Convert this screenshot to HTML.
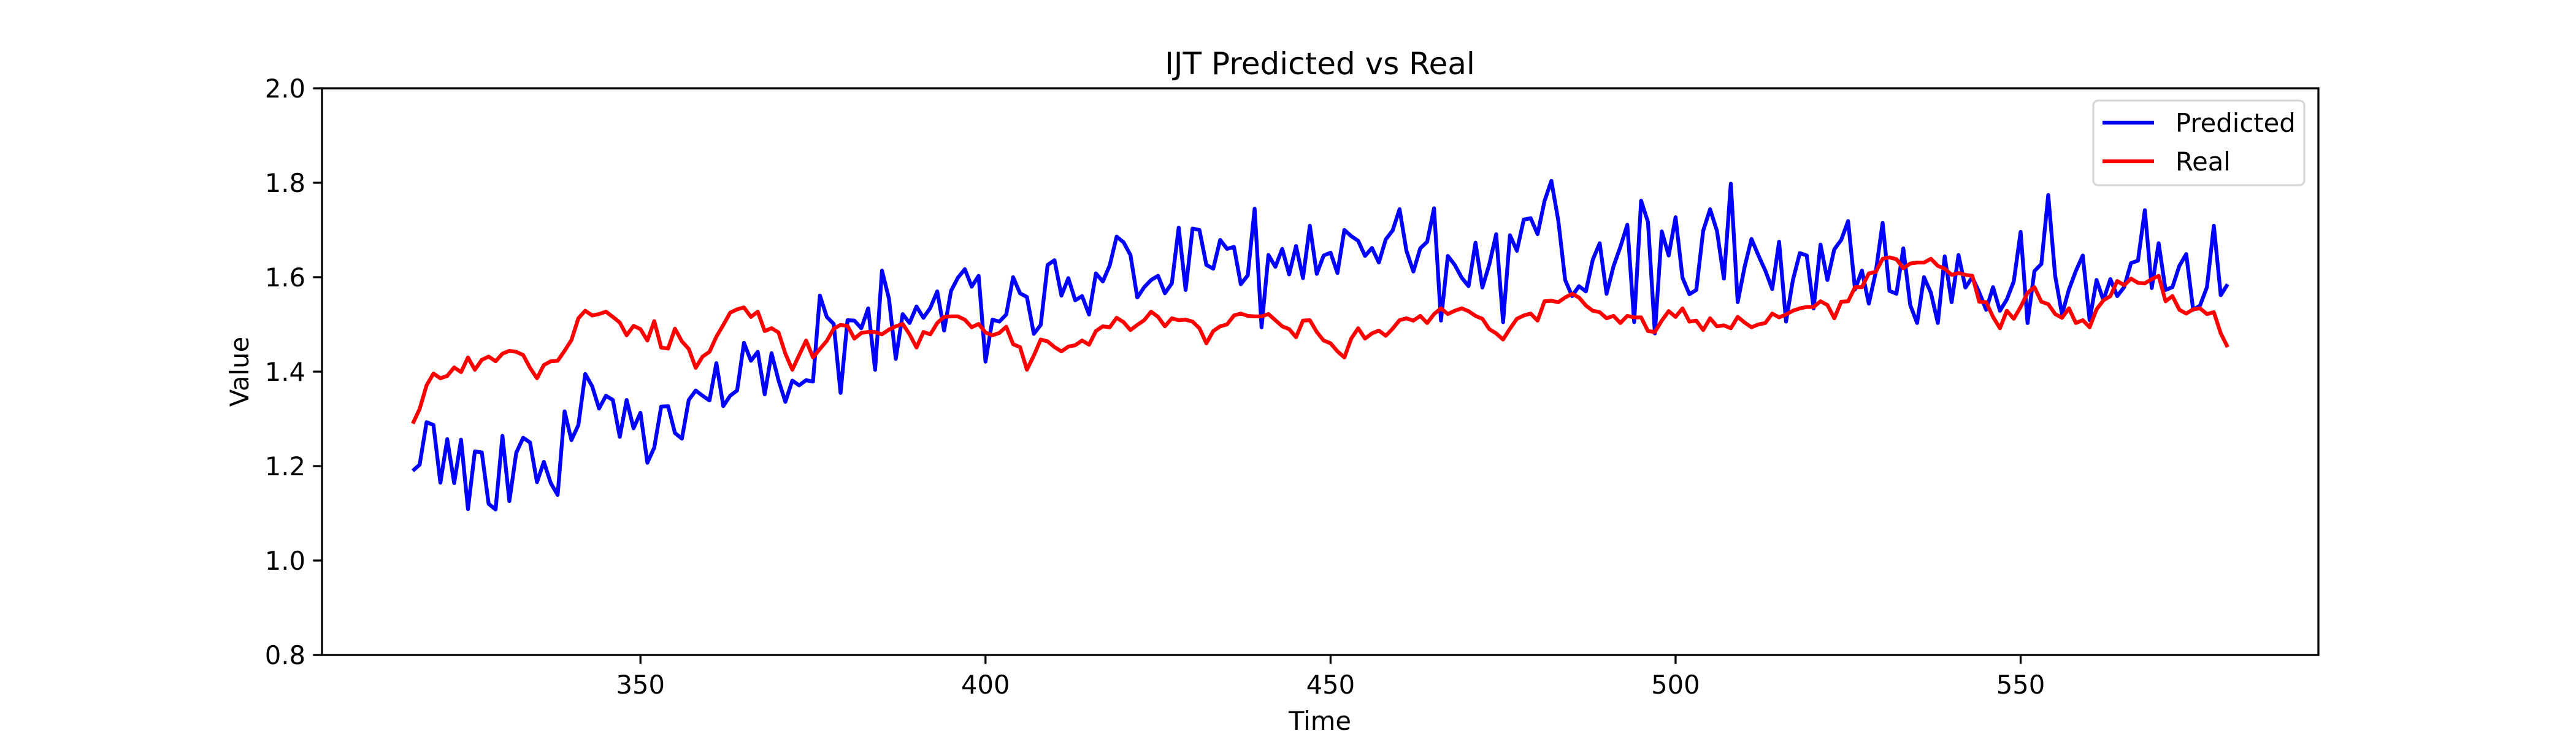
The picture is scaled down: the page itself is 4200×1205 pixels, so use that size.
<!DOCTYPE html>
<html><head><meta charset="utf-8"><style>
html,body{margin:0;padding:0;background:#fff}
svg text{font-family:"DejaVu Sans","Liberation Sans",sans-serif}
</style></head><body>
<svg id="chart" width="4200" height="1200" viewBox="0 0 4200 1200" xmlns="http://www.w3.org/2000/svg">
<rect width="4200" height="1200" fill="#fff"/>
<text x="2152" y="121" font-size="50" text-anchor="middle">IJT Predicted vs Real</text>
<g id="ticks"></g>
<g id="series"></g>
<rect x="525" y="144" width="3255" height="924" fill="none" stroke="#000" stroke-width="3.3"/>
<text x="2152" y="1190" font-size="41.7" text-anchor="middle">Time</text>
<text x="0" y="0" font-size="41.7" text-anchor="middle" transform="translate(405,606) rotate(-90)">Value</text>
<g>
<rect x="3413" y="164" width="344" height="138" rx="8" fill="#fff" fill-opacity="0.8" stroke="#d6d6d6" stroke-width="3.3"/>
<line x1="3428" y1="200" x2="3512" y2="200" stroke="#0000ff" stroke-width="6.25"/>
<text x="3547" y="215" font-size="41.7">Predicted</text>
<line x1="3428" y1="263" x2="3512" y2="263" stroke="#ff0000" stroke-width="6.25"/>
<text x="3547" y="278" font-size="41.7">Real</text>
</g>
</svg>
<script>
const startTime = 317;
const predicted = [1.19,1.203,1.293,1.287,1.165,1.257,1.164,1.256,1.109,1.231,
1.229,1.12,1.108,1.264,1.126,1.228,1.26,1.25,1.166,1.209,
1.164,1.139,1.316,1.255,1.287,1.395,1.369,1.322,1.349,1.34,
1.262,1.34,1.28,1.313,1.207,1.239,1.326,1.327,1.27,1.258,
1.34,1.36,1.349,1.339,1.418,1.327,1.349,1.36,1.461,1.423,
1.442,1.352,1.439,1.382,1.336,1.381,1.371,1.382,1.379,1.561,
1.516,1.501,1.355,1.509,1.508,1.492,1.534,1.404,1.614,1.555,
1.427,1.522,1.503,1.538,1.514,1.535,1.57,1.487,1.571,1.599,
1.617,1.58,1.603,1.421,1.51,1.506,1.521,1.6,1.566,1.558,
1.48,1.499,1.626,1.636,1.561,1.598,1.551,1.56,1.521,1.608,
1.591,1.625,1.686,1.674,1.647,1.557,1.579,1.594,1.603,1.566,
1.587,1.705,1.573,1.703,1.7,1.626,1.618,1.679,1.66,1.664,
1.585,1.604,1.745,1.494,1.647,1.622,1.66,1.606,1.666,1.598,
1.709,1.607,1.646,1.652,1.609,1.7,1.687,1.677,1.645,1.662,
1.631,1.68,1.699,1.744,1.656,1.612,1.661,1.675,1.746,1.508,
1.645,1.626,1.599,1.581,1.673,1.578,1.627,1.691,1.505,1.689,
1.656,1.722,1.725,1.691,1.761,1.804,1.72,1.594,1.56,1.581,
1.57,1.637,1.672,1.565,1.623,1.664,1.711,1.505,1.762,1.717,
1.481,1.697,1.646,1.727,1.599,1.564,1.573,1.698,1.744,1.698,
1.597,1.798,1.547,1.622,1.681,1.646,1.614,1.575,1.675,1.506,
1.594,1.651,1.646,1.534,1.669,1.594,1.659,1.679,1.719,1.574,
1.614,1.544,1.61,1.715,1.571,1.565,1.661,1.541,1.503,1.6,
1.567,1.503,1.644,1.547,1.647,1.578,1.6,1.568,1.531,1.579,
1.529,1.553,1.591,1.696,1.503,1.613,1.628,1.774,1.603,1.521,
1.574,1.613,1.646,1.509,1.594,1.551,1.596,1.56,1.579,1.63,
1.635,1.742,1.577,1.672,1.573,1.579,1.624,1.649,1.531,1.54,
1.579,1.709,1.562,1.585];
const real = [1.29,1.321,1.371,1.396,1.386,1.391,1.409,1.399,1.43,1.404,
1.425,1.432,1.422,1.438,1.444,1.442,1.435,1.408,1.386,1.414,
1.422,1.423,1.444,1.467,1.513,1.529,1.519,1.522,1.527,1.516,
1.504,1.477,1.497,1.49,1.466,1.507,1.451,1.449,1.491,1.464,
1.448,1.408,1.432,1.442,1.474,1.499,1.525,1.532,1.536,1.516,
1.527,1.486,1.492,1.483,1.438,1.404,1.435,1.466,1.43,1.448,
1.465,1.491,1.499,1.497,1.47,1.482,1.484,1.484,1.479,1.489,
1.496,1.501,1.479,1.451,1.484,1.479,1.503,1.516,1.517,1.517,
1.51,1.494,1.501,1.483,1.477,1.482,1.495,1.458,1.452,1.404,
1.434,1.468,1.464,1.452,1.443,1.453,1.456,1.466,1.457,1.486,
1.496,1.494,1.514,1.505,1.488,1.499,1.509,1.527,1.516,1.496,
1.513,1.509,1.51,1.506,1.492,1.46,1.486,1.496,1.5,1.519,
1.523,1.518,1.517,1.517,1.522,1.509,1.496,1.49,1.473,1.508,
1.509,1.484,1.466,1.46,1.443,1.43,1.47,1.492,1.47,1.481,
1.487,1.476,1.491,1.509,1.513,1.508,1.518,1.503,1.522,1.534,
1.522,1.529,1.534,1.528,1.518,1.512,1.49,1.481,1.468,1.491,
1.512,1.519,1.523,1.508,1.549,1.55,1.547,1.557,1.565,1.557,
1.54,1.529,1.526,1.513,1.518,1.503,1.518,1.515,1.515,1.486,
1.484,1.508,1.528,1.516,1.534,1.506,1.508,1.488,1.513,1.496,
1.498,1.492,1.516,1.504,1.494,1.5,1.503,1.523,1.515,1.521,
1.529,1.534,1.537,1.537,1.549,1.541,1.513,1.548,1.549,1.579,
1.579,1.608,1.611,1.639,1.642,1.638,1.619,1.629,1.631,1.631,
1.639,1.624,1.618,1.605,1.609,1.605,1.603,1.548,1.547,1.516,
1.492,1.529,1.512,1.537,1.567,1.579,1.548,1.543,1.522,1.514,
1.534,1.503,1.509,1.494,1.532,1.551,1.56,1.592,1.583,1.597,
1.588,1.587,1.596,1.603,1.549,1.56,1.531,1.523,1.532,1.534,
1.522,1.526,1.481,1.452];
const xTicks = [350,400,450,500,550];
const yTicks = [0.8,1.0,1.2,1.4,1.6,1.8,2.0];

const NS = "http://www.w3.org/2000/svg";
const L = 525, R = 3780, T = 144, B = 1068;
const n = Math.max(predicted.length, real.length);
const xMin0 = startTime, xMax0 = startTime + n - 1;
const pad = (xMax0 - xMin0) * 0.05;
const xMin = xMin0 - pad, xMax = xMax0 + pad;
const yMin = 0.8, yMax = 2.0;
function sx(v){ return L + (v - xMin) / (xMax - xMin) * (R - L); }
function sy(v){ return B - (v - yMin) / (yMax - yMin) * (B - T); }

const tg = document.getElementById('ticks');
xTicks.forEach(t => {
  const x = sx(t);
  const ln = document.createElementNS(NS, 'line');
  ln.setAttribute('x1', x); ln.setAttribute('x2', x);
  ln.setAttribute('y1', B); ln.setAttribute('y2', B + 14.6);
  ln.setAttribute('stroke', '#000'); ln.setAttribute('stroke-width', '3.3');
  
  
  tg.appendChild(ln);
  const tx = document.createElementNS(NS, 'text');
  tx.setAttribute('x', x); tx.setAttribute('y', B + 63);
  tx.setAttribute('font-size', '41.7'); tx.setAttribute('text-anchor', 'middle');
  tx.textContent = String(t);
  
  
  tg.appendChild(tx);
});
yTicks.forEach(t => {
  const y = sy(t);
  const ln = document.createElementNS(NS, 'line');
  ln.setAttribute('x1', L - 14.6); ln.setAttribute('x2', L);
  ln.setAttribute('y1', y); ln.setAttribute('y2', y);
  ln.setAttribute('stroke', '#000'); ln.setAttribute('stroke-width', '3.3');
  
  
  tg.appendChild(ln);
  const tx = document.createElementNS(NS, 'text');
  tx.setAttribute('x', L - 27); tx.setAttribute('y', y + 15);
  tx.setAttribute('font-size', '41.7'); tx.setAttribute('text-anchor', 'end');
  tx.textContent = t.toFixed(1);
  
  
  tg.appendChild(tx);
});

const sg = document.getElementById('series');
function addLine(vals, color, name){
  const pts = vals.map((v, i) => sx(startTime + i).toFixed(1) + ',' + sy(v).toFixed(1)).join(' ');
  const pl = document.createElementNS(NS, 'polyline');
  pl.setAttribute('points', pts);
  pl.setAttribute('fill', 'none');
  pl.setAttribute('stroke', color);
  pl.setAttribute('stroke-width', '6.25');
  pl.setAttribute('stroke-linejoin', 'round');
  
  
  sg.appendChild(pl);
}
addLine(predicted, '#0000ff', 'predicted-line');
addLine(real, '#ff0000', 'real-line');
</script>
</body></html>
